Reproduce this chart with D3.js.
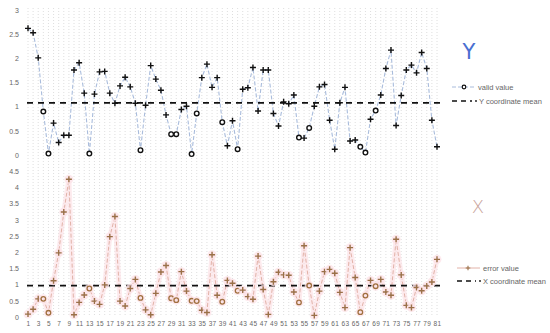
<!DOCTYPE html>
<html>
<head>
<meta charset="utf-8">
<script src="https://cdn.jsdelivr.net/npm/d3@7"></script>
<style>
  body { margin: 0; background: #fff; }
  svg { font-family: "Liberation Sans", Arial, sans-serif; }
  .tick text { fill: #666; }
</style>
</head>
<body>
<svg width="550" height="333"></svg>
<script>
// positions 1..81 along the bottom
var categories = d3.range(1, 82)
var xTickLabels = d3.range(1, 82, 2)

// Y coordinate (top panel)
var yValues = [2.62,2.53,2.01,0.90,0.03,0.66,0.26,0.41,0.41,1.76,
  1.91,1.28,0.03,1.26,1.72,1.73,1.28,1.07,1.43,1.61,
  1.41,1.07,0.10,1.03,1.85,1.57,1.34,0.83,0.43,0.43,
  0.94,1.01,0.02,0.86,1.60,1.88,1.40,1.60,0.68,0.19,
  0.71,0.12,1.36,1.39,1.81,0.91,1.76,1.76,0.86,0.60,
  1.10,1.06,1.24,0.36,0.35,0.56,1.01,1.41,1.46,0.72,
  0.12,1.08,1.40,0.29,0.31,0.17,0.05,0.74,0.92,1.24,
  1.79,2.17,0.61,1.23,1.76,1.86,1.70,2.12,1.79,0.72,0.17]

// X coordinate (bottom panel)
var xValues = [0.09,0.24,0.56,0.56,0.13,1.12,1.98,3.24,4.25,0.07,
  0.45,0.68,0.88,0.49,0.39,0.99,2.48,3.10,0.49,0.34,
  0.88,1.16,0.59,0.22,0.07,0.73,1.39,1.59,0.58,0.52,
  1.40,0.80,0.50,0.49,0.21,0.14,1.92,0.67,0.47,1.13,
  1.04,0.81,0.83,0.63,0.55,1.88,0.85,0.08,1.09,1.38,
  1.30,1.29,0.77,0.45,2.20,0.97,0.05,0.80,1.40,1.47,
  1.35,0.76,0.29,2.14,1.22,0.15,0.66,1.13,0.95,1.16,
  0.77,0.67,2.40,1.30,0.36,0.29,0.91,0.81,0.96,1.08,1.78]

// points drawn as circles (valid) in both panels
var validPoints = [4,5,13,23,29,30,33,34,39,42,54,56,66,67,69]

var yMean = 1.08
var xMean = 0.97

var yTicksTop = [0, 0.5, 1, 1.5, 2, 2.5, 3]
var yTicksBottom = [0.5, 1, 1.5, 2, 2.5, 3, 3.5, 4, 4.5]

var svg = d3.select("svg")

var xScale = d3.scaleLinear().domain([1, 81]).range([28, 437])
var yTop = d3.scaleLinear().domain([0, 3]).range([155, 10])
var yBot = d3.scaleLinear().domain([0, 5]).range([317, 155])

var isValid = function(i){ return validPoints.indexOf(i) >= 0 }

// dotted vertical grid
svg.append("g")
  .selectAll("line")
  .data(categories)
  .enter()
  .append("line")
  .attr("x1", function(d){ return xScale(d) })
  .attr("x2", function(d){ return xScale(d) })
  .attr("y1", 8)
  .attr("y2", 317)
  .attr("stroke", "#d6d6d6")
  .attr("stroke-width", 0.8)
  .attr("stroke-dasharray", "1,2")

// axes (labels only)
var drawLeft = function(scale, ticks){
  var g = svg.append("g")
    .attr("transform", "translate(19,0)")
    .call(d3.axisLeft(scale).tickValues(ticks).tickSize(0).tickPadding(0).tickFormat(d3.format("")))
  g.select(".domain").remove()
  g.selectAll("text").style("font-size", "7px")
}
drawLeft(yTop, yTicksTop)
drawLeft(yBot, [0].concat(yTicksBottom))

var xAxis = svg.append("g")
  .attr("transform", "translate(0,320)")
  .call(d3.axisBottom(xScale).tickValues(xTickLabels).tickSize(0).tickPadding(1))
xAxis.select(".domain").remove()
xAxis.selectAll("text").style("font-size", "6.5px").attr("letter-spacing", "0.3px")

var plus = function(g, cx, cy, s, color, w){
  g.append("path")
    .attr("d", "M" + (cx - s) + "," + cy + "h" + (2 * s) + "M" + cx + "," + (cy - s) + "v" + (2 * s))
    .attr("stroke", color)
    .attr("stroke-width", w)
}

// ---------- top panel: Y ----------
var topLine = d3.line()
  .x(function(d, i){ return xScale(categories[i]) })
  .y(function(d){ return yTop(d) })

svg.append("path")
  .datum(yValues)
  .attr("d", topLine)
  .attr("fill", "none")
  .attr("stroke", "#a9bcdc")
  .attr("stroke-width", 1.1)
  .attr("stroke-dasharray", "4,2")

svg.append("line")
  .attr("x1", 27).attr("x2", 440)
  .attr("y1", yTop(yMean)).attr("y2", yTop(yMean))
  .attr("stroke", "#111")
  .attr("stroke-width", 1.8)
  .attr("stroke-dasharray", "6,5")

var topMarks = svg.append("g")
yValues.forEach(function(v, i){
  var c = categories[i]
  if (isValid(c)) {
    topMarks.append("circle")
      .attr("cx", xScale(c)).attr("cy", yTop(v)).attr("r", 2.3)
      .attr("fill", "#fff").attr("stroke", "#111").attr("stroke-width", 1.4)
  } else {
    plus(topMarks, xScale(c), yTop(v), 3, "#111", 1.4)
  }
})

// ---------- bottom panel: X ----------
var botLine = d3.line()
  .x(function(d, i){ return xScale(categories[i]) })
  .y(function(d){ return yBot(d) })

svg.append("path")
  .datum(xValues)
  .attr("d", botLine)
  .attr("fill", "none")
  .attr("stroke", "#fbdde3")
  .attr("stroke-width", 5)
  .attr("stroke-opacity", 0.6)
  .attr("stroke-linejoin", "round")

svg.append("path")
  .datum(xValues)
  .attr("d", botLine)
  .attr("fill", "none")
  .attr("stroke", "#e2b2a8")
  .attr("stroke-width", 1)
  .attr("stroke-dasharray", "4,2")

svg.append("line")
  .attr("x1", 27).attr("x2", 440)
  .attr("y1", yBot(xMean)).attr("y2", yBot(xMean))
  .attr("stroke", "#111")
  .attr("stroke-width", 1.8)
  .attr("stroke-dasharray", "6,5")

var botMarks = svg.append("g")
xValues.forEach(function(v, i){
  var c = categories[i]
  botMarks.append("circle")
    .attr("cx", xScale(c)).attr("cy", yBot(v)).attr("r", 4.5)
    .attr("fill", "#fde3e8").attr("opacity", 0.8)
  if (isValid(c)) {
    botMarks.append("circle")
      .attr("cx", xScale(c)).attr("cy", yBot(v)).attr("r", 2.3)
      .attr("fill", "none").attr("stroke", "#a0703f").attr("stroke-width", 1.3)
  } else {
    plus(botMarks, xScale(c), yBot(v), 3, "#9a7048", 1.4)
  }
})

// ---------- big letters ----------
svg.append("text")
  .attr("x", 469).attr("y", 59)
  .attr("text-anchor", "middle")
  .style("font-size", "21px")
  .style("font-family", "'DejaVu Sans', sans-serif")
  .attr("fill", "#4a6fd1")
  .text("Y")

svg.append("text")
  .attr("x", 478).attr("y", 213)
  .attr("text-anchor", "middle")
  .style("font-size", "18px")
  .style("font-family", "'DejaVu Sans', sans-serif")
  .style("font-weight", "300")
  .attr("fill", "#c9a39a")
  .text("X")

// ---------- legends ----------
var legend = svg.append("g").style("font-size", "7.5px").attr("fill", "#666")

legend.append("line")
  .attr("x1", 452).attr("x2", 474).attr("y1", 87).attr("y2", 87)
  .attr("stroke", "#a9bcdc").attr("stroke-width", 1).attr("stroke-dasharray", "4,2")
legend.append("circle")
  .attr("cx", 464).attr("cy", 87).attr("r", 1.8)
  .attr("fill", "#fff").attr("stroke", "#111").attr("stroke-width", 1.2)
legend.append("text").attr("x", 478).attr("y", 89.5).text("valid value")

legend.append("line")
  .attr("x1", 452).attr("x2", 472).attr("y1", 101).attr("y2", 101)
  .attr("stroke", "#111").attr("stroke-width", 1.6).attr("stroke-dasharray", "5,4")
legend.append("circle").attr("cx", 476).attr("cy", 101).attr("r", 0.9).attr("fill", "#111")
legend.append("text").attr("x", 479).attr("y", 103.5).text("Y coordinate mean")

legend.append("line")
  .attr("x1", 457).attr("x2", 480).attr("y1", 268).attr("y2", 268)
  .attr("stroke", "#e2b2a8").attr("stroke-width", 1)
plus(legend, 468, 268, 2.3, "#9a7048", 1.1)
legend.append("text").attr("x", 483).attr("y", 270.5).text("error value")

legend.append("line")
  .attr("x1", 457).attr("x2", 476).attr("y1", 281).attr("y2", 281)
  .attr("stroke", "#111").attr("stroke-width", 1.6).attr("stroke-dasharray", "5,4")
legend.append("circle").attr("cx", 480).attr("cy", 281).attr("r", 0.9).attr("fill", "#111")
legend.append("text").attr("x", 483).attr("y", 283.5).text("X coordinate mean")
</script>
</body>
</html>
